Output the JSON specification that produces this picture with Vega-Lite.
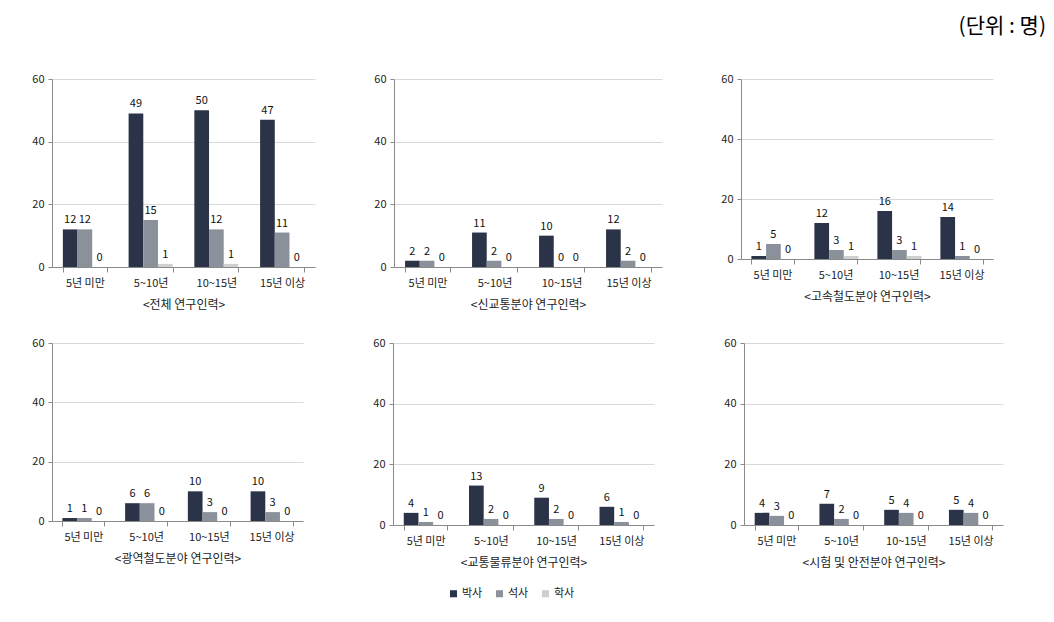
{
  "$schema": "https://vega.github.io/schema/vega-lite/v6.json",
  "background": "white",
  "padding": {"left": 31, "top": 16, "right": 8, "bottom": 8},
  "title": {"text": "(단위 : 명)", "anchor": "end", "fontSize": 21, "fontWeight": "normal", "font": "Noto Sans CJK KR", "color": "#000", "offset": 36, "dx": 43},
  "datasets": {
    "d": [
      {"p": "전체", "period": "5년 미만", "deg": "박사", "v": 12},
      {"p": "전체", "period": "5년 미만", "deg": "석사", "v": 12},
      {"p": "전체", "period": "5년 미만", "deg": "학사", "v": 0},
      {"p": "전체", "period": "5~10년", "deg": "박사", "v": 49},
      {"p": "전체", "period": "5~10년", "deg": "석사", "v": 15},
      {"p": "전체", "period": "5~10년", "deg": "학사", "v": 1},
      {"p": "전체", "period": "10~15년", "deg": "박사", "v": 50},
      {"p": "전체", "period": "10~15년", "deg": "석사", "v": 12},
      {"p": "전체", "period": "10~15년", "deg": "학사", "v": 1},
      {"p": "전체", "period": "15년 이상", "deg": "박사", "v": 47},
      {"p": "전체", "period": "15년 이상", "deg": "석사", "v": 11},
      {"p": "전체", "period": "15년 이상", "deg": "학사", "v": 0},
      {"p": "신교통", "period": "5년 미만", "deg": "박사", "v": 2},
      {"p": "신교통", "period": "5년 미만", "deg": "석사", "v": 2},
      {"p": "신교통", "period": "5년 미만", "deg": "학사", "v": 0},
      {"p": "신교통", "period": "5~10년", "deg": "박사", "v": 11},
      {"p": "신교통", "period": "5~10년", "deg": "석사", "v": 2},
      {"p": "신교통", "period": "5~10년", "deg": "학사", "v": 0},
      {"p": "신교통", "period": "10~15년", "deg": "박사", "v": 10},
      {"p": "신교통", "period": "10~15년", "deg": "석사", "v": 0},
      {"p": "신교통", "period": "10~15년", "deg": "학사", "v": 0},
      {"p": "신교통", "period": "15년 이상", "deg": "박사", "v": 12},
      {"p": "신교통", "period": "15년 이상", "deg": "석사", "v": 2},
      {"p": "신교통", "period": "15년 이상", "deg": "학사", "v": 0},
      {"p": "고속철도", "period": "5년 미만", "deg": "박사", "v": 1},
      {"p": "고속철도", "period": "5년 미만", "deg": "석사", "v": 5},
      {"p": "고속철도", "period": "5년 미만", "deg": "학사", "v": 0},
      {"p": "고속철도", "period": "5~10년", "deg": "박사", "v": 12},
      {"p": "고속철도", "period": "5~10년", "deg": "석사", "v": 3},
      {"p": "고속철도", "period": "5~10년", "deg": "학사", "v": 1},
      {"p": "고속철도", "period": "10~15년", "deg": "박사", "v": 16},
      {"p": "고속철도", "period": "10~15년", "deg": "석사", "v": 3},
      {"p": "고속철도", "period": "10~15년", "deg": "학사", "v": 1},
      {"p": "고속철도", "period": "15년 이상", "deg": "박사", "v": 14},
      {"p": "고속철도", "period": "15년 이상", "deg": "석사", "v": 1},
      {"p": "고속철도", "period": "15년 이상", "deg": "학사", "v": 0},
      {"p": "광역철도", "period": "5년 미만", "deg": "박사", "v": 1},
      {"p": "광역철도", "period": "5년 미만", "deg": "석사", "v": 1},
      {"p": "광역철도", "period": "5년 미만", "deg": "학사", "v": 0},
      {"p": "광역철도", "period": "5~10년", "deg": "박사", "v": 6},
      {"p": "광역철도", "period": "5~10년", "deg": "석사", "v": 6},
      {"p": "광역철도", "period": "5~10년", "deg": "학사", "v": 0},
      {"p": "광역철도", "period": "10~15년", "deg": "박사", "v": 10},
      {"p": "광역철도", "period": "10~15년", "deg": "석사", "v": 3},
      {"p": "광역철도", "period": "10~15년", "deg": "학사", "v": 0},
      {"p": "광역철도", "period": "15년 이상", "deg": "박사", "v": 10},
      {"p": "광역철도", "period": "15년 이상", "deg": "석사", "v": 3},
      {"p": "광역철도", "period": "15년 이상", "deg": "학사", "v": 0},
      {"p": "교통물류", "period": "5년 미만", "deg": "박사", "v": 4},
      {"p": "교통물류", "period": "5년 미만", "deg": "석사", "v": 1},
      {"p": "교통물류", "period": "5년 미만", "deg": "학사", "v": 0},
      {"p": "교통물류", "period": "5~10년", "deg": "박사", "v": 13},
      {"p": "교통물류", "period": "5~10년", "deg": "석사", "v": 2},
      {"p": "교통물류", "period": "5~10년", "deg": "학사", "v": 0},
      {"p": "교통물류", "period": "10~15년", "deg": "박사", "v": 9},
      {"p": "교통물류", "period": "10~15년", "deg": "석사", "v": 2},
      {"p": "교통물류", "period": "10~15년", "deg": "학사", "v": 0},
      {"p": "교통물류", "period": "15년 이상", "deg": "박사", "v": 6},
      {"p": "교통물류", "period": "15년 이상", "deg": "석사", "v": 1},
      {"p": "교통물류", "period": "15년 이상", "deg": "학사", "v": 0},
      {"p": "시험안전", "period": "5년 미만", "deg": "박사", "v": 4},
      {"p": "시험안전", "period": "5년 미만", "deg": "석사", "v": 3},
      {"p": "시험안전", "period": "5년 미만", "deg": "학사", "v": 0},
      {"p": "시험안전", "period": "5~10년", "deg": "박사", "v": 7},
      {"p": "시험안전", "period": "5~10년", "deg": "석사", "v": 2},
      {"p": "시험안전", "period": "5~10년", "deg": "학사", "v": 0},
      {"p": "시험안전", "period": "10~15년", "deg": "박사", "v": 5},
      {"p": "시험안전", "period": "10~15년", "deg": "석사", "v": 4},
      {"p": "시험안전", "period": "10~15년", "deg": "학사", "v": 0},
      {"p": "시험안전", "period": "15년 이상", "deg": "박사", "v": 5},
      {"p": "시험안전", "period": "15년 이상", "deg": "석사", "v": 4},
      {"p": "시험안전", "period": "15년 이상", "deg": "학사", "v": 0}
    ]
  },
  "data": {"name": "d"},
  "vconcat": [
    {
      "spacing": 58,
      "hconcat": [
        {
          "width": 263, "height": 188,
          "transform": [{"filter": "datum.p === '전체'"}],
          "encoding": {
            "x": {"field": "period", "type": "nominal", "sort": ["5년 미만", "5~10년", "10~15년", "15년 이상"], "scale": {"paddingInner": 0.33, "paddingOuter": 0.165}, "axis": {"title": "<전체 연구인력>"}},
            "xOffset": {"field": "deg", "type": "nominal", "sort": ["박사", "석사", "학사"]},
            "y": {"field": "v", "type": "quantitative", "scale": {"domain": [0, 60]}, "axis": {"values": [0, 20, 40, 60], "title": null}}
          },
          "layer": [
            {"mark": "bar", "encoding": {"color": {"field": "deg", "type": "nominal", "scale": {"domain": ["박사", "석사", "학사"], "range": ["#2a3347", "#8b919b", "#cfcfcf"]}, "legend": {"title": null}}}},
            {"mark": {"type": "text", "dy": -9}, "encoding": {"text": {"field": "v", "type": "quantitative"}}}
          ]
        },
        {
          "width": 268, "height": 188,
          "transform": [{"filter": "datum.p === '신교통'"}],
          "encoding": {
            "x": {"field": "period", "type": "nominal", "sort": ["5년 미만", "5~10년", "10~15년", "15년 이상"], "scale": {"paddingInner": 0.33, "paddingOuter": 0.165}, "axis": {"title": "<신교통분야 연구인력>"}},
            "xOffset": {"field": "deg", "type": "nominal", "sort": ["박사", "석사", "학사"]},
            "y": {"field": "v", "type": "quantitative", "scale": {"domain": [0, 60]}, "axis": {"values": [0, 20, 40, 60], "title": null}}
          },
          "layer": [
            {"mark": "bar", "encoding": {"color": {"field": "deg", "type": "nominal"}}},
            {"mark": {"type": "text", "dy": -9}, "encoding": {"text": {"field": "v", "type": "quantitative"}}}
          ]
        },
        {
          "width": 252, "height": 180,
          "transform": [{"filter": "datum.p === '고속철도'"}],
          "encoding": {
            "x": {"field": "period", "type": "nominal", "sort": ["5년 미만", "5~10년", "10~15년", "15년 이상"], "scale": {"paddingInner": 0.33, "paddingOuter": 0.165}, "axis": {"title": "<고속철도분야 연구인력>"}},
            "xOffset": {"field": "deg", "type": "nominal", "sort": ["박사", "석사", "학사"]},
            "y": {"field": "v", "type": "quantitative", "scale": {"domain": [0, 60]}, "axis": {"values": [0, 20, 40, 60], "title": null}}
          },
          "layer": [
            {"mark": "bar", "encoding": {"color": {"field": "deg", "type": "nominal"}}},
            {"mark": {"type": "text", "dy": -9}, "encoding": {"text": {"field": "v", "type": "quantitative"}}}
          ]
        }
      ]
    },
    {
      "spacing": 69,
      "hconcat": [
        {
          "width": 251, "height": 178,
          "transform": [{"filter": "datum.p === '광역철도'"}],
          "encoding": {
            "x": {"field": "period", "type": "nominal", "sort": ["5년 미만", "5~10년", "10~15년", "15년 이상"], "scale": {"paddingInner": 0.33, "paddingOuter": 0.165}, "axis": {"title": "<광역철도분야 연구인력>"}},
            "xOffset": {"field": "deg", "type": "nominal", "sort": ["박사", "석사", "학사"]},
            "y": {"field": "v", "type": "quantitative", "scale": {"domain": [0, 60]}, "axis": {"values": [0, 20, 40, 60], "title": null}}
          },
          "layer": [
            {"mark": "bar", "encoding": {"color": {"field": "deg", "type": "nominal"}}},
            {"mark": {"type": "text", "dy": -9}, "encoding": {"text": {"field": "v", "type": "quantitative"}}}
          ]
        },
        {
          "width": 261, "height": 182,
          "transform": [{"filter": "datum.p === '교통물류'"}],
          "encoding": {
            "x": {"field": "period", "type": "nominal", "sort": ["5년 미만", "5~10년", "10~15년", "15년 이상"], "scale": {"paddingInner": 0.33, "paddingOuter": 0.165}, "axis": {"title": "<교통물류분야 연구인력>"}},
            "xOffset": {"field": "deg", "type": "nominal", "sort": ["박사", "석사", "학사"]},
            "y": {"field": "v", "type": "quantitative", "scale": {"domain": [0, 60]}, "axis": {"values": [0, 20, 40, 60], "title": null}}
          },
          "layer": [
            {"mark": "bar", "encoding": {"color": {"field": "deg", "type": "nominal"}}},
            {"mark": {"type": "text", "dy": -9}, "encoding": {"text": {"field": "v", "type": "quantitative"}}}
          ]
        },
        {
          "width": 259, "height": 182,
          "transform": [{"filter": "datum.p === '시험안전'"}],
          "encoding": {
            "x": {"field": "period", "type": "nominal", "sort": ["5년 미만", "5~10년", "10~15년", "15년 이상"], "scale": {"paddingInner": 0.33, "paddingOuter": 0.165}, "axis": {"title": "<시험 및 안전분야 연구인력>"}},
            "xOffset": {"field": "deg", "type": "nominal", "sort": ["박사", "석사", "학사"]},
            "y": {"field": "v", "type": "quantitative", "scale": {"domain": [0, 60]}, "axis": {"values": [0, 20, 40, 60], "title": null}}
          },
          "layer": [
            {"mark": "bar", "encoding": {"color": {"field": "deg", "type": "nominal"}}},
            {"mark": {"type": "text", "dy": -9}, "encoding": {"text": {"field": "v", "type": "quantitative"}}}
          ]
        }
      ]
    }
  ],
  "spacing": 27,
  "config": {
    "view": {"stroke": null},
    "font": "Noto Sans CJK KR",
    "text": {"fontSize": 11, "color": "#111", "font": "Noto Sans CJK KR"},
    "axis": {"labelFont": "Noto Sans CJK KR", "titleFont": "Noto Sans CJK KR", "labelFontSize": 11, "labelColor": "#222", "domainColor": "#8a8a8a", "tickColor": "#8a8a8a"},
    "axisX": {"labelAngle": 0, "tickBand": "extent", "tickSize": 5, "labelPadding": 5, "titlePadding": 11, "titleFontSize": 12, "titleFontWeight": "normal", "titleColor": "#222"},
    "axisY": {"gridColor": "#d9d9d9", "tickSize": 4, "labelPadding": 4, "domain": true},
    "legend": {"orient": "none", "legendX": 396, "legendY": 509, "direction": "horizontal", "symbolType": "square", "symbolSize": 50, "symbolStrokeWidth": 0, "labelFontSize": 11, "labelFont": "Noto Sans CJK KR", "labelColor": "#222", "columnPadding": 11, "labelOffset": 3}
  }
}
